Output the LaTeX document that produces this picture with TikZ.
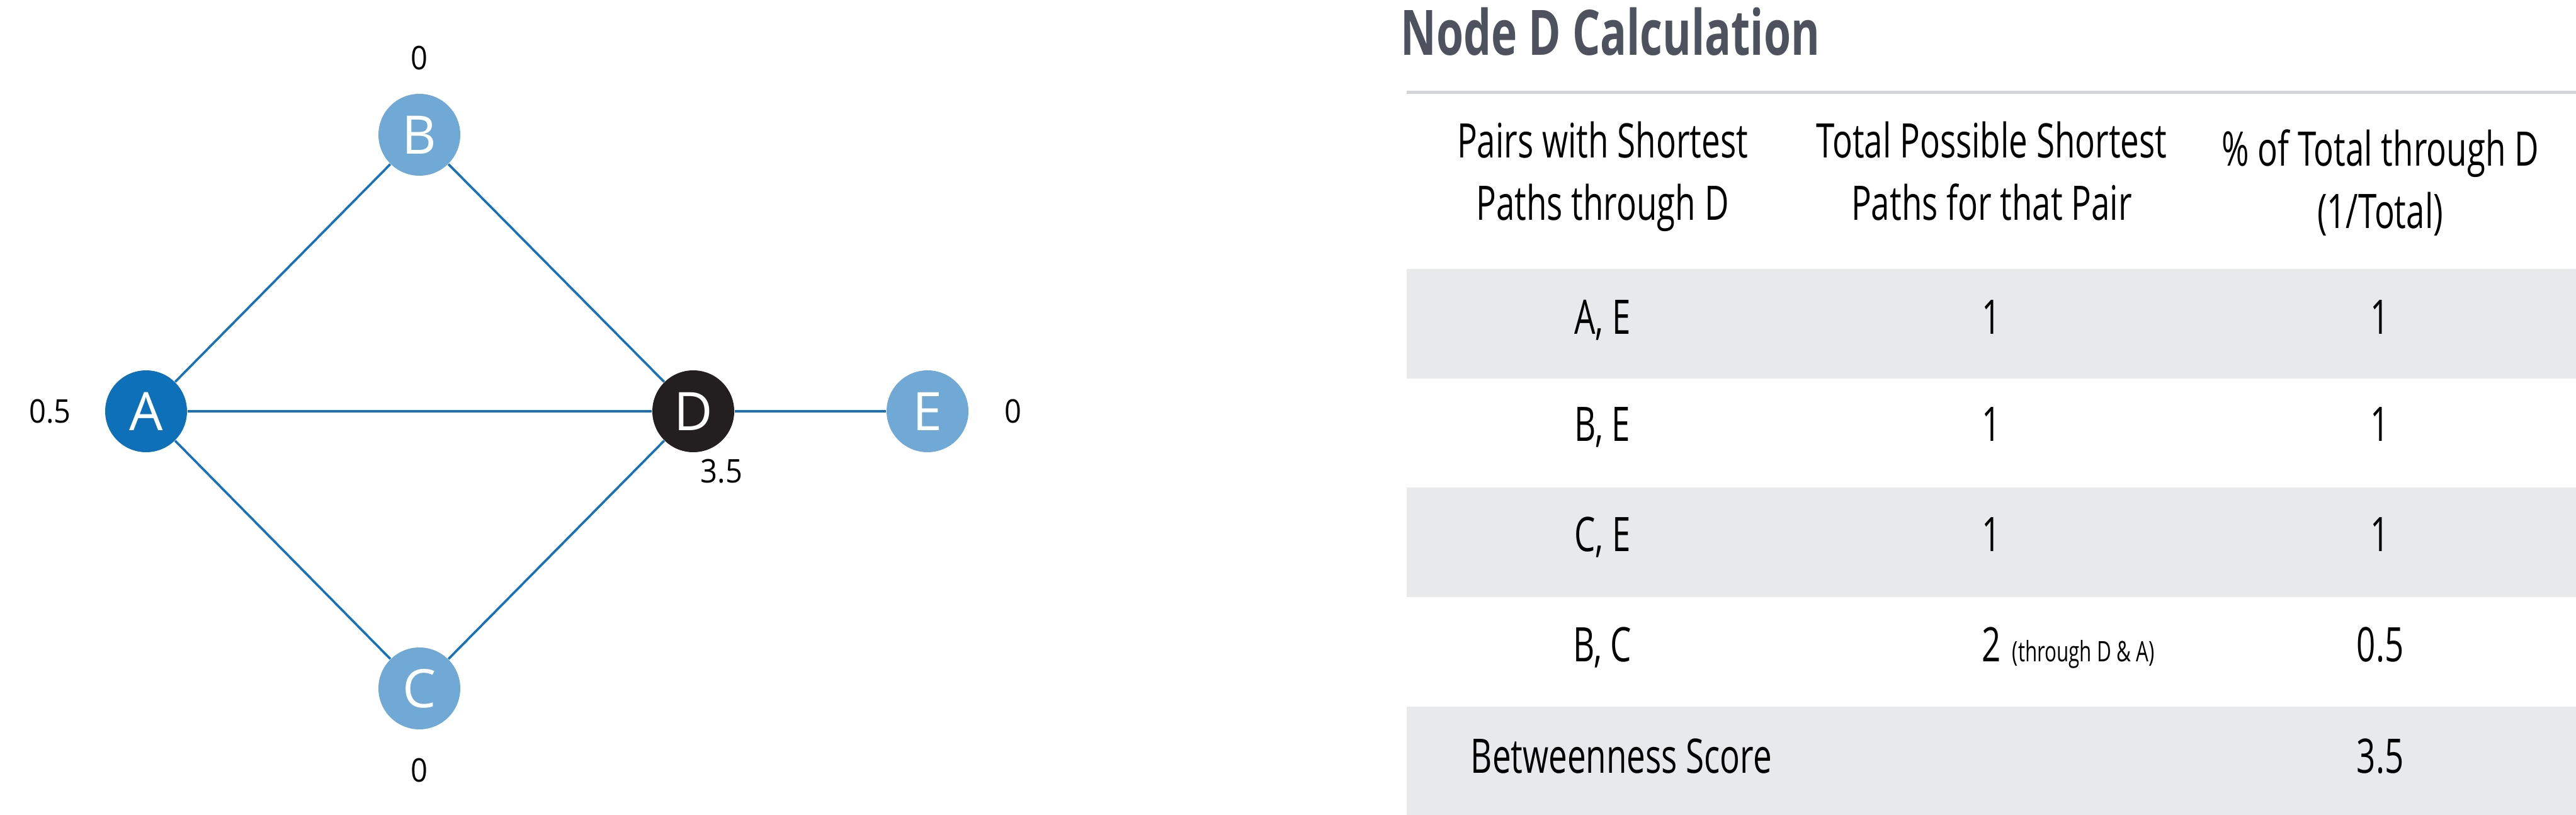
\documentclass[tikz,border=0pt]{standalone}
\usepackage{fontspec}
\setmainfont{Open Sans}
\newfontfamily\condfont{Open Sans}[FakeStretch=0.7]
\newfontfamily\numfont{Open Sans}[FakeStretch=0.91]
\usetikzlibrary{positioning,calc}
\definecolor{DeepBlue}{RGB}{14,112,184}
\definecolor{LightBlue}{RGB}{112,169,214}
\definecolor{NearBlack}{RGB}{35,31,32}
\definecolor{EdgeBlue}{RGB}{24,114,186}
\definecolor{TitleGray}{RGB}{77,82,94}
\definecolor{RowGray}{RGB}{232,233,235}
\definecolor{RuleGray}{RGB}{211,213,217}
\tikzset{
  vtx/.style={circle,minimum size=1.3cm,inner sep=0pt,text=white,
    font=\fontsize{24}{24}\selectfont},
  lbl/.style={inner sep=0pt,font=\numfont\fontsize{14.7}{15}\selectfont},
  edge/.style={draw=EdgeBlue,line width=1.05pt},
  cell/.style={inner sep=0pt,anchor=base,align=center,
    font=\condfont\fontsize{21.5}{28.45}\selectfont},
  band/.style={fill=RowGray,draw=none},
}

\begin{document}
\begin{tikzpicture}
  \useasboundingbox (0,0) rectangle (40.91,-12.94);
  \node[vtx,fill=DeepBlue,label={[lbl,label distance=0.53cm]left:0.5}] (A) at (2.32,-6.53) {A};
  \node[vtx,fill=LightBlue,label={[lbl,label distance=0.37cm]above:0}] (B) at (6.66,-2.14) {B};
  \node[vtx,fill=LightBlue,label={[lbl,label distance=0.45cm]below:0}] (C) at (6.66,-10.93) {C};
  \node[vtx,fill=NearBlack] (D) at (11.01,-6.53) {D};
  \node[vtx,fill=LightBlue,label={[lbl,label distance=0.56cm]right:0}] (E) at (14.73,-6.53) {E};
  \node[lbl] (dscore) at ($(D)+(0.45,-0.95)$) {3.5};
  \foreach \i/\j in {A/B,A/C,A/D,B/D,C/D,D/E}
    \draw[edge] (\i)--(\j);

  \node[anchor=base west,inner sep=0pt,text=TitleGray,
    font=\condfont\bfseries\fontsize{28.3}{30}\selectfont] (title) at (22.24,-0.88) {Node D Calculation};
  \draw[RuleGray,line width=0.05cm] (22.34,-1.47) -- (40.91,-1.47);
  \foreach \y in {4.27,7.74,11.22}
    \fill[band] (22.34,-\y) rectangle (40.91,-\y-1.74);

  \node[cell] (h1) at (25.45,-3.50) {Pairs with Shortest\\Paths through D};
  \node[cell] (h2) at (31.63,-3.50) {Total Possible Shortest\\Paths for that Pair};
  \node[cell] (h3) at (37.80,-3.63) {\% of Total through D\\(1/Total)};
  \foreach \pair/\tot/\pct/\y [count=\r] in {{A, E}/1/1/5.31,{B, E}/1/1/7.01,{C, E}/1/1/8.75,{B, C}/2/0.5/10.50}{
    \node[cell] (pair\r) at (25.45,-\y) {\pair};
    \node[cell] (tot\r) at (31.63,-\y) {\tot};
    \node[cell] (pct\r) at (37.80,-\y) {\pct};
  }
  \node[cell,anchor=base west,font=\condfont\fontsize{12.75}{14}\selectfont] (via) at (31.95,-10.50) {(through D \& A)};
  \node[cell,anchor=base west] (score) at (23.35,-12.27) {Betweenness Score};
  \node[cell] (total) at (37.80,-12.27) {3.5};
\end{tikzpicture}
\end{document}
